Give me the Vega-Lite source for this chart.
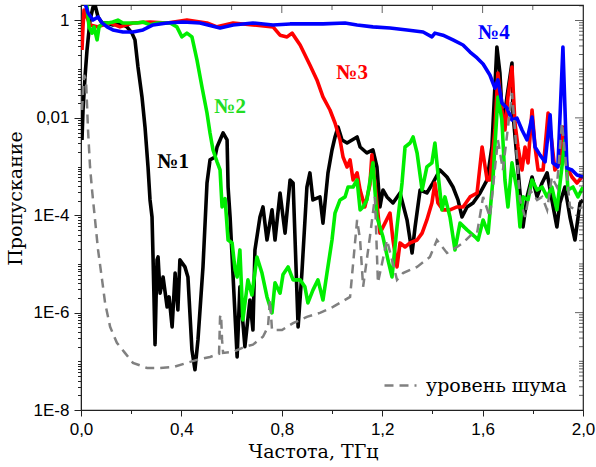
{
"$schema":"https://vega.github.io/schema/vega-lite/v6.json",
"width":502,"height":405,
"autosize":{"type":"none"},
"padding":{"left":81,"top":5,"right":13,"bottom":57},
"background":"white",
"config":{"view":{"stroke":"#222","strokeWidth":1.2},
"axis":{"domainColor":"#222","tickColor":"#222","labelFont":"Liberation Sans","labelFontSize":17,"labelColor":"#000","titleFont":"DejaVu Serif","titleFontSize":19,"titleFontWeight":"normal","titleColor":"#000","grid":false,"labelFlush":false,"labelOverlap":false},
"legend":{"labelFont":"DejaVu Serif"}},
"datasets":{
"s1":[{"f":0.004,"t":0.00352},{"f":0.008,"t":0.0145},{"f":0.016,"t":0.0692},{"f":0.024,"t":0.248},{"f":0.036,"t":1.02},{"f":0.048,"t":1.89},{"f":0.056,"t":2.08},{"f":0.068,"t":1.18},{"f":0.084,"t":0.89},{"f":0.104,"t":0.89},{"f":0.127,"t":0.81},{"f":0.155,"t":0.89},{"f":0.183,"t":0.74},{"f":0.203,"t":0.55},{"f":0.215,"t":0.4},{"f":0.227,"t":0.111},{"f":0.243,"t":0.0269},{"f":0.255,"t":0.0065},{"f":0.267,"t":0.00098},{"f":0.275,"t":2.06e-4},{"f":0.283,"t":9.2e-5},{"f":0.287,"t":1.39e-5},{"f":0.291,"t":1.82e-6},{"f":0.295,"t":2.2e-7},{"f":0.299,"t":1.82e-6},{"f":0.303,"t":1.21e-5},{"f":0.307,"t":1.39e-5},{"f":0.315,"t":2.5e-6},{"f":0.327,"t":5.4e-6},{"f":0.343,"t":1.31e-6},{"f":0.351,"t":2.1e-6},{"f":0.363,"t":5.1e-7},{"f":0.375,"t":6.5e-6},{"f":0.386,"t":1.14e-6},{"f":0.394,"t":1.21e-5},{"f":0.414,"t":8.7e-6},{"f":0.426,"t":5.4e-6},{"f":0.442,"t":1.7e-7},{"f":0.454,"t":6.7e-8},{"f":0.466,"t":2.75e-7},{"f":0.486,"t":8.7e-6},{"f":0.502,"t":4.6e-4},{"f":0.514,"t":1.37e-3},{"f":0.534,"t":1.57e-3},{"f":0.542,"t":2.52e-3},{"f":0.554,"t":3.52e-3},{"f":0.566,"t":4.9e-3},{"f":0.582,"t":3.52e-3},{"f":0.586,"t":3.8e-4},{"f":0.594,"t":9.2e-5},{"f":0.606,"t":5.4e-6},{"f":0.622,"t":1.23e-7},{"f":0.633,"t":3.4e-6},{"f":0.653,"t":2.0e-7},{"f":0.673,"t":1.82e-6},{"f":0.685,"t":4.4e-7},{"f":0.693,"t":1.94e-5},{"f":0.713,"t":9.2e-5},{"f":0.725,"t":1.48e-4},{"f":0.741,"t":3.1e-5},{"f":0.761,"t":1.29e-4},{"f":0.773,"t":3.1e-5},{"f":0.793,"t":2.87e-4},{"f":0.813,"t":4.3e-5},{"f":0.833,"t":5.3e-4},{"f":0.845,"t":4.6e-4},{"f":0.865,"t":5.1e-7},{"f":0.88,"t":6.5e-6},{"f":0.9,"t":3.8e-4},{"f":0.912,"t":7.4e-4},{"f":0.924,"t":2.06e-4},{"f":0.952,"t":2.38e-4},{"f":0.964,"t":6.9e-5},{"f":0.984,"t":7.4e-4},{"f":1.0,"t":2.19e-3},{"f":1.012,"t":4.05e-3},{"f":1.024,"t":6.5e-3},{"f":1.04,"t":3.52e-3},{"f":1.06,"t":3.05e-3},{"f":1.08,"t":3.52e-3},{"f":1.1,"t":4.05e-3},{"f":1.112,"t":2.52e-3},{"f":1.139,"t":1.9e-3},{"f":1.163,"t":2.19e-3},{"f":1.179,"t":9.8e-4},{"f":1.191,"t":1.48e-4},{"f":1.203,"t":3.3e-4},{"f":1.219,"t":2.38e-4},{"f":1.243,"t":1.79e-4},{"f":1.271,"t":2.87e-4},{"f":1.299,"t":8.0e-5},{"f":1.319,"t":1.68e-5},{"f":1.331,"t":5.75e-5},{"f":1.351,"t":3.3e-4},{"f":1.378,"t":2.87e-4},{"f":1.402,"t":4.6e-4},{"f":1.43,"t":8.5e-4},{"f":1.458,"t":6.1e-4},{"f":1.482,"t":3.8e-4},{"f":1.502,"t":2.06e-4},{"f":1.518,"t":9.2e-5},{"f":1.538,"t":1.48e-4},{"f":1.562,"t":1.79e-4},{"f":1.59,"t":2.87e-4},{"f":1.618,"t":5.3e-4},{"f":1.637,"t":2.52e-3},{"f":1.657,"t":0.286},{"f":1.669,"t":0.0836},{"f":1.681,"t":5.64e-3},{"f":1.697,"t":0.0269},{"f":1.717,"t":0.134},{"f":1.721,"t":0.0126},{"f":1.741,"t":8.5e-4},{"f":1.761,"t":5.75e-5},{"f":1.777,"t":2.38e-4},{"f":1.797,"t":6.1e-4},{"f":1.817,"t":2.38e-4},{"f":1.837,"t":4.6e-4},{"f":1.857,"t":7.4e-4},{"f":1.876,"t":2.06e-4},{"f":1.896,"t":5.75e-5},{"f":1.908,"t":1.79e-4},{"f":1.928,"t":3.8e-4},{"f":1.948,"t":9.2e-5},{"f":1.968,"t":3.1e-5},{"f":1.988,"t":1.79e-4},{"f":2.0,"t":2.06e-4}],
"s2":[{"f":0.016,"t":2.64},{"f":0.024,"t":1.89},{"f":0.032,"t":0.74},{"f":0.044,"t":0.55},{"f":0.052,"t":0.74},{"f":0.064,"t":0.4},{"f":0.072,"t":0.74},{"f":0.088,"t":0.89},{"f":0.108,"t":0.89},{"f":0.127,"t":0.93},{"f":0.147,"t":1.02},{"f":0.167,"t":0.89},{"f":0.195,"t":0.89},{"f":0.223,"t":0.89},{"f":0.247,"t":0.93},{"f":0.275,"t":0.81},{"f":0.303,"t":0.89},{"f":0.327,"t":0.89},{"f":0.355,"t":0.89},{"f":0.382,"t":0.74},{"f":0.402,"t":0.46},{"f":0.422,"t":0.55},{"f":0.442,"t":0.46},{"f":0.462,"t":0.155},{"f":0.482,"t":0.0431},{"f":0.502,"t":0.0126},{"f":0.514,"t":0.0049},{"f":0.526,"t":2.19e-3},{"f":0.542,"t":1.25e-3},{"f":0.554,"t":8.5e-4},{"f":0.562,"t":1.48e-4},{"f":0.574,"t":2.2e-4},{"f":0.586,"t":3.1e-5},{"f":0.602,"t":2.7e-5},{"f":0.614,"t":7.5e-6},{"f":0.622,"t":5.4e-6},{"f":0.633,"t":1.94e-5},{"f":0.645,"t":7.1e-7},{"f":0.665,"t":4.7e-6},{"f":0.681,"t":2.3e-6},{"f":0.701,"t":1.39e-5},{"f":0.721,"t":6.5e-6},{"f":0.741,"t":2.1e-6},{"f":0.761,"t":9.9e-7},{"f":0.773,"t":4.1e-6},{"f":0.793,"t":2.5e-6},{"f":0.805,"t":6.1e-6},{"f":0.825,"t":8.7e-6},{"f":0.845,"t":4.7e-6},{"f":0.873,"t":4.7e-6},{"f":0.892,"t":3.4e-6},{"f":0.904,"t":1.58e-6},{"f":0.924,"t":2.9e-6},{"f":0.944,"t":4.7e-6},{"f":0.964,"t":1.82e-6},{"f":0.98,"t":6.5e-6},{"f":1.0,"t":3.1e-5},{"f":1.012,"t":1.11e-4},{"f":1.032,"t":2.06e-4},{"f":1.052,"t":2.38e-4},{"f":1.064,"t":3.8e-4},{"f":1.084,"t":3.8e-4},{"f":1.1,"t":5.3e-4},{"f":1.112,"t":1.29e-4},{"f":1.124,"t":1.48e-4},{"f":1.139,"t":2.06e-4},{"f":1.163,"t":1.19e-3},{"f":1.179,"t":9.2e-5},{"f":1.203,"t":3.6e-5},{"f":1.223,"t":1.21e-5},{"f":1.239,"t":5.4e-6},{"f":1.259,"t":5.75e-5},{"f":1.279,"t":4.6e-4},{"f":1.291,"t":2.52e-3},{"f":1.311,"t":3.05e-3},{"f":1.323,"t":4.05e-3},{"f":1.339,"t":1.9e-3},{"f":1.359,"t":3.3e-4},{"f":1.378,"t":9.8e-4},{"f":1.398,"t":1.19e-3},{"f":1.41,"t":3.05e-3},{"f":1.422,"t":7.4e-4},{"f":1.438,"t":1.29e-4},{"f":1.45,"t":2.38e-4},{"f":1.47,"t":9.2e-5},{"f":1.49,"t":1.94e-5},{"f":1.51,"t":6.9e-5},{"f":1.538,"t":5.0e-5},{"f":1.57,"t":3.6e-5},{"f":1.582,"t":3.1e-5},{"f":1.602,"t":8.0e-5},{"f":1.622,"t":4.3e-5},{"f":1.641,"t":5.3e-4},{"f":1.661,"t":0.0269},{"f":1.677,"t":9.05e-3},{"f":1.689,"t":5.3e-4},{"f":1.701,"t":1.48e-4},{"f":1.717,"t":1.19e-3},{"f":1.737,"t":3.3e-4},{"f":1.749,"t":5.75e-5},{"f":1.761,"t":2.38e-4},{"f":1.781,"t":2.06e-4},{"f":1.797,"t":5.3e-4},{"f":1.817,"t":3.3e-4},{"f":1.837,"t":3.8e-4},{"f":1.857,"t":2.38e-4},{"f":1.876,"t":3.8e-4},{"f":1.896,"t":1.29e-4},{"f":1.916,"t":9.8e-4},{"f":1.928,"t":3.52e-3},{"f":1.94,"t":3.3e-4},{"f":1.96,"t":3.8e-4},{"f":1.98,"t":2.38e-4},{"f":2.0,"t":3.8e-4}],
"s3":[{"f":0.004,"t":0.248},{"f":0.008,"t":0.74},{"f":0.012,"t":1.64},{"f":0.02,"t":1.3},{"f":0.036,"t":0.81},{"f":0.064,"t":0.74},{"f":0.116,"t":0.89},{"f":0.155,"t":0.74},{"f":0.207,"t":0.89},{"f":0.275,"t":0.93},{"f":0.343,"t":0.89},{"f":0.422,"t":1.02},{"f":0.502,"t":0.89},{"f":0.542,"t":0.74},{"f":0.606,"t":0.89},{"f":0.685,"t":0.81},{"f":0.765,"t":0.74},{"f":0.793,"t":0.5},{"f":0.821,"t":0.46},{"f":0.841,"t":0.55},{"f":0.873,"t":0.314},{"f":0.912,"t":0.122},{"f":0.94,"t":0.06},{"f":0.964,"t":0.0269},{"f":0.992,"t":0.0145},{"f":1.012,"t":0.00785},{"f":1.032,"t":0.00352},{"f":1.044,"t":0.00157},{"f":1.06,"t":9.8e-4},{"f":1.072,"t":1.37e-3},{"f":1.084,"t":5.3e-4},{"f":1.1,"t":7.4e-4},{"f":1.112,"t":3.3e-4},{"f":1.131,"t":1.48e-4},{"f":1.151,"t":4.2e-4},{"f":1.159,"t":1.74e-3},{"f":1.171,"t":4.6e-4},{"f":1.191,"t":4.3e-5},{"f":1.211,"t":6.9e-5},{"f":1.231,"t":1.11e-4},{"f":1.243,"t":3.1e-5},{"f":1.259,"t":8.7e-6},{"f":1.271,"t":2.7e-5},{"f":1.291,"t":2.23e-5},{"f":1.311,"t":2.7e-5},{"f":1.339,"t":3.1e-5},{"f":1.359,"t":4.3e-5},{"f":1.378,"t":8.0e-5},{"f":1.398,"t":1.79e-4},{"f":1.41,"t":4.6e-4},{"f":1.422,"t":1.79e-4},{"f":1.442,"t":1.29e-4},{"f":1.47,"t":1.29e-4},{"f":1.498,"t":1.48e-4},{"f":1.522,"t":1.48e-4},{"f":1.55,"t":2.38e-4},{"f":1.578,"t":2.87e-4},{"f":1.598,"t":2.52e-3},{"f":1.618,"t":5.3e-4},{"f":1.629,"t":5.3e-4},{"f":1.649,"t":5.64e-3},{"f":1.661,"t":0.0836},{"f":1.677,"t":0.0145},{"f":1.689,"t":5.64e-3},{"f":1.701,"t":0.0269},{"f":1.717,"t":0.111},{"f":1.729,"t":7.85e-3},{"f":1.741,"t":2.52e-3},{"f":1.757,"t":8.5e-4},{"f":1.769,"t":2.52e-3},{"f":1.781,"t":1.19e-3},{"f":1.797,"t":0.0145},{"f":1.809,"t":2.52e-3},{"f":1.821,"t":8.5e-4},{"f":1.841,"t":8.5e-4},{"f":1.861,"t":0.0126},{"f":1.876,"t":3.05e-3},{"f":1.888,"t":8.5e-4},{"f":1.908,"t":1.19e-3},{"f":1.92,"t":6.5e-3},{"f":1.936,"t":9.8e-4},{"f":1.956,"t":6.1e-4},{"f":1.976,"t":4.6e-4},{"f":1.996,"t":6.1e-4}],
"s4":[{"f":0.012,"t":2.64},{"f":0.028,"t":1.43},{"f":0.048,"t":1.02},{"f":0.068,"t":1.18},{"f":0.084,"t":0.89},{"f":0.104,"t":0.74},{"f":0.127,"t":0.64},{"f":0.167,"t":0.58},{"f":0.207,"t":0.58},{"f":0.247,"t":0.64},{"f":0.287,"t":0.81},{"f":0.343,"t":0.89},{"f":0.406,"t":0.93},{"f":0.474,"t":0.89},{"f":0.554,"t":0.7},{"f":0.606,"t":0.81},{"f":0.685,"t":0.89},{"f":0.765,"t":0.81},{"f":0.833,"t":0.85},{"f":0.964,"t":0.85},{"f":1.052,"t":0.89},{"f":1.1,"t":0.81},{"f":1.163,"t":0.74},{"f":1.231,"t":0.7},{"f":1.299,"t":0.64},{"f":1.363,"t":0.58},{"f":1.398,"t":0.46},{"f":1.41,"t":0.55},{"f":1.442,"t":0.5},{"f":1.482,"t":0.4},{"f":1.522,"t":0.314},{"f":1.55,"t":0.225},{"f":1.578,"t":0.17},{"f":1.602,"t":0.128},{"f":1.629,"t":0.076},{"f":1.649,"t":0.041},{"f":1.661,"t":0.06},{"f":1.677,"t":0.0203},{"f":1.697,"t":0.0159},{"f":1.717,"t":0.00905},{"f":1.737,"t":0.0099},{"f":1.757,"t":0.00564},{"f":1.777,"t":0.00352},{"f":1.797,"t":0.0104},{"f":1.809,"t":0.00252},{"f":1.829,"t":0.00172},{"f":1.849,"t":0.00125},{"f":1.869,"t":0.0115},{"f":1.88,"t":0.00119},{"f":1.9,"t":9.8e-4},{"f":1.92,"t":0.286},{"f":1.936,"t":9.3e-4},{"f":1.956,"t":8.5e-4},{"f":1.976,"t":6.7e-4},{"f":2.0,"t":6.1e-4}],
"noise":[{"f":0.004,"t":0.0145},{"f":0.012,"t":0.076},{"f":0.02,"t":0.06},{"f":0.028,"t":0.00564},{"f":0.036,"t":9.8e-4},{"f":0.044,"t":3.3e-4},{"f":0.056,"t":8.0e-5},{"f":0.068,"t":1.94e-5},{"f":0.084,"t":4.7e-6},{"f":0.096,"t":1.58e-6},{"f":0.116,"t":5.1e-7},{"f":0.143,"t":2.4e-7},{"f":0.175,"t":1.49e-7},{"f":0.207,"t":9.3e-8},{"f":0.263,"t":7.3e-8},{"f":0.315,"t":7.3e-8},{"f":0.367,"t":7.6e-8},{"f":0.422,"t":9.3e-8},{"f":0.462,"t":1.07e-7},{"f":0.514,"t":1.23e-7},{"f":0.55,"t":1.42e-7},{"f":0.554,"t":8.2e-7},{"f":0.558,"t":9.0e-7},{"f":0.562,"t":2.75e-7},{"f":0.566,"t":1.49e-7},{"f":0.606,"t":1.56e-7},{"f":0.653,"t":2.0e-7},{"f":0.685,"t":2.2e-7},{"f":0.725,"t":3.2e-7},{"f":0.745,"t":5.1e-7},{"f":0.753,"t":1.82e-6},{"f":0.761,"t":4.4e-7},{"f":0.801,"t":4.4e-7},{"f":0.845,"t":6.1e-7},{"f":0.9,"t":8.2e-7},{"f":0.952,"t":9.9e-7},{"f":1.004,"t":1.31e-6},{"f":1.072,"t":2.1e-6},{"f":1.1,"t":8.0e-5},{"f":1.112,"t":3.1e-5},{"f":1.124,"t":3.4e-6},{"f":1.151,"t":3.6e-5},{"f":1.171,"t":2.38e-4},{"f":1.183,"t":4.1e-6},{"f":1.219,"t":3.1e-5},{"f":1.259,"t":4.7e-6},{"f":1.283,"t":6.5e-6},{"f":1.339,"t":8.7e-6},{"f":1.39,"t":1.39e-5},{"f":1.418,"t":3.1e-5},{"f":1.458,"t":1.68e-5},{"f":1.498,"t":2.23e-5},{"f":1.522,"t":2.7e-5},{"f":1.562,"t":4.3e-5},{"f":1.578,"t":4.3e-5},{"f":1.602,"t":2.38e-4},{"f":1.629,"t":9.2e-5},{"f":1.661,"t":3.52e-3},{"f":1.681,"t":8.5e-4},{"f":1.717,"t":0.0324},{"f":1.729,"t":5.64e-3},{"f":1.749,"t":2.06e-4},{"f":1.769,"t":9.2e-5},{"f":1.789,"t":3.3e-4},{"f":1.817,"t":2.06e-4},{"f":1.837,"t":2.38e-4},{"f":1.857,"t":1.29e-4},{"f":1.876,"t":6.1e-4},{"f":1.896,"t":3.8e-4},{"f":1.916,"t":7.85e-3},{"f":1.928,"t":1.9e-3},{"f":1.948,"t":1.48e-4},{"f":1.976,"t":1.29e-4},{"f":2.0,"t":1.48e-4}],
"labels":[{"f":0.367,"t":0.00124,"label":"№1"},{"f":0.594,"t":0.0168,"label":"№2"},{"f":1.08,"t":0.0836,"label":"№3"},{"f":1.645,"t":0.554,"label":"№4"}],
"xticks":[{"f":0.2},{"f":0.4},{"f":0.6},{"f":0.8},{"f":1.0},{"f":1.2},{"f":1.4},{"f":1.6},{"f":1.8}],
"yticks":[{"t":2e-8},{"t":3e-8},{"t":4e-8},{"t":5e-8},{"t":6e-8},{"t":7e-8},{"t":8e-8},{"t":9e-8},{"t":1e-7},{"t":2e-7},{"t":3e-7},{"t":4e-7},{"t":5e-7},{"t":6e-7},{"t":7e-7},{"t":8e-7},{"t":9e-7},{"t":1e-6},{"t":2e-6},{"t":3e-6},{"t":4e-6},{"t":5e-6},{"t":6e-6},{"t":7e-6},{"t":8e-6},{"t":9e-6},{"t":1e-5},{"t":2e-5},{"t":3e-5},{"t":4e-5},{"t":5e-5},{"t":6e-5},{"t":7e-5},{"t":8e-5},{"t":9e-5},{"t":1e-4},{"t":2e-4},{"t":3e-4},{"t":4e-4},{"t":5e-4},{"t":6e-4},{"t":7e-4},{"t":8e-4},{"t":9e-4},{"t":1e-3},{"t":2e-3},{"t":3e-3},{"t":4e-3},{"t":5e-3},{"t":6e-3},{"t":7e-3},{"t":8e-3},{"t":9e-3},{"t":0.01},{"t":0.02},{"t":0.03},{"t":0.04},{"t":0.05},{"t":0.06},{"t":0.07},{"t":0.08},{"t":0.09},{"t":0.1},{"t":0.2},{"t":0.3},{"t":0.4},{"t":0.5},{"t":0.6},{"t":0.7},{"t":0.8},{"t":0.9},{"t":1},{"t":2}]
},
"layer":[
{"data":{"name":"s1"},"mark":{"type":"line","color":"#000000","strokeWidth":3.6,"strokeJoin":"round","clip":true},
"encoding":{
"x":{"field":"f","type":"quantitative","scale":{"domain":[0,2],"nice":false,"zero":false},
"axis":{"orient":"bottom","values":[0,0.2,0.4,0.6,0.8,1,1.2,1.4,1.6,1.8,2],"labelExpr":"round(datum.value*10)%4==0 ? replace(format(datum.value,'.1f'),'.',',') : ''","tickSize":{"condition":{"test":"round(datum.value*10)%4==0","value":6},"value":3.5},"labelPadding":5,"title":"Частота, ТГц","titleX":232,"titleY":47,"titleBaseline":"alphabetic","titleAlign":"center"}},
"y":{"field":"t","type":"quantitative","scale":{"type":"log","domain":[1e-8,2.08],"nice":false},
"axis":{"orient":"left","values":[1e-8,2e-8,3e-8,4e-8,5e-8,6e-8,7e-8,8e-8,9e-8,1e-7,2e-7,3e-7,4e-7,5e-7,6e-7,7e-7,8e-7,9e-7,1e-6,2e-6,3e-6,4e-6,5e-6,6e-6,7e-6,8e-6,9e-6,1e-5,2e-5,3e-5,4e-5,5e-5,6e-5,7e-5,8e-5,9e-5,1e-4,2e-4,3e-4,4e-4,5e-4,6e-4,7e-4,8e-4,9e-4,1e-3,2e-3,3e-3,4e-3,5e-3,6e-3,7e-3,8e-3,9e-3,0.01,0.02,0.03,0.04,0.05,0.06,0.07,0.08,0.09,0.1,0.2,0.3,0.4,0.5,0.6,0.7,0.8,0.9,1,2],
"labelExpr":"datum.value==1 ? '1' : datum.value==0.01 ? '0,01' : datum.value==0.0001 ? '1E-4' : datum.value==0.000001 ? '1E-6' : datum.value==1e-8 ? '1E-8' : ''",
"tickSize":{"condition":{"test":"datum.value==1 || datum.value==0.01 || datum.value==0.0001 || datum.value==0.000001 || datum.value==1e-8","value":7},"value":3.5},
"labelPadding":5,"title":"Пропускание","titleX":-66,"titleY":193,"titleAngle":-90,"titleBaseline":"middle","titleAlign":"center"}}}},
{"data":{"name":"s3"},"mark":{"type":"line","color":"#ff0000","strokeWidth":3.6,"strokeJoin":"round","clip":true},
"encoding":{"x":{"field":"f","type":"quantitative","axis":null},"y":{"field":"t","type":"quantitative","axis":null}}},
{"data":{"name":"s2"},"mark":{"type":"line","color":"#00ee00","strokeWidth":3.6,"strokeJoin":"round","clip":true},
"encoding":{"x":{"field":"f","type":"quantitative","axis":null},"y":{"field":"t","type":"quantitative","axis":null}}},
{"data":{"name":"s4"},"mark":{"type":"line","color":"#0000ff","strokeWidth":3.6,"strokeJoin":"round","clip":true},
"encoding":{"x":{"field":"f","type":"quantitative","axis":null},"y":{"field":"t","type":"quantitative","axis":null}}},
{"data":{"name":"noise"},"mark":{"type":"line","color":"#808080","strokeWidth":2.5,"clip":true},
"encoding":{"x":{"field":"f","type":"quantitative","axis":null},"y":{"field":"t","type":"quantitative","axis":null},
"strokeDash":{"datum":"уровень шума","type":"nominal","scale":{"domain":["уровень шума"],"range":[[9,6]]},
"legend":{"orient":"none","legendX":302,"legendY":363,"title":null,"padding":0,"symbolType":"stroke","symbolSize":1024,"symbolStrokeColor":"#808080","symbolStrokeWidth":2.5,"labelFontSize":19,"labelColor":"#000","labelOffset":8}}}},
{"data":{"name":"labels"},"mark":{"type":"text","font":"Liberation Serif","fontSize":21,"fontWeight":"bold"},
"encoding":{"x":{"field":"f","type":"quantitative","axis":null},"y":{"field":"t","type":"quantitative","axis":null},"text":{"field":"label"},
"color":{"field":"label","type":"nominal","scale":{"domain":["№1","№2","№3","№4"],"range":["#000000","#22dd22","#ff0000","#0000ff"]},"legend":null}}},
{"data":{"name":"xticks"},"mark":{"type":"tick","orient":"vertical","color":"#222","thickness":1,"clip":true},
"encoding":{"x":{"field":"f","type":"quantitative","axis":null},"y":{"datum":2.08,"type":"quantitative","axis":null},
"size":{"condition":{"test":"round(datum.f*10)%4==0","value":16},"value":10}}},
{"data":{"name":"yticks"},"mark":{"type":"tick","orient":"horizontal","color":"#222","thickness":1,"clip":true},
"encoding":{"x":{"datum":2,"type":"quantitative","axis":null},"y":{"field":"t","type":"quantitative","axis":null},
"size":{"condition":{"test":"datum.t==1 || datum.t==0.01 || datum.t==0.0001 || datum.t==0.000001","value":16},"value":8}}}
],
"resolve":{"axis":{"x":"independent","y":"independent"}}
}
